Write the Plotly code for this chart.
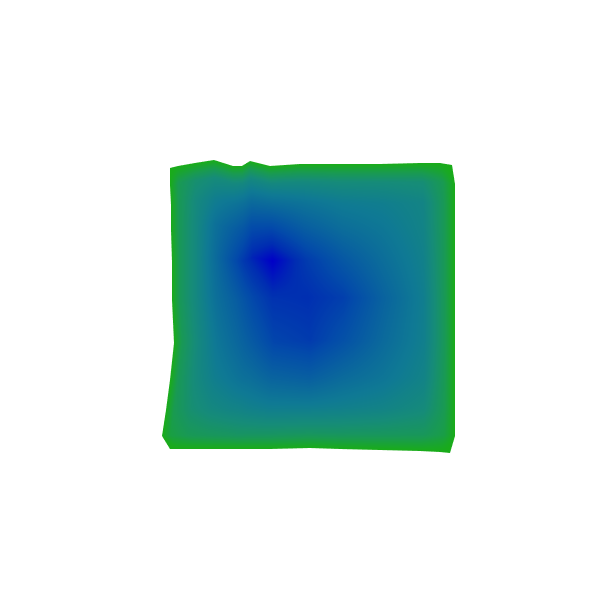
import numpy as np
import plotly.graph_objects as go

# Outline of the sheet, in picture units (y measured downward)
top_x = [170, 178, 195, 214, 233, 242, 250, 270, 300, 340, 380, 420, 440, 452]
top_y = [168, 166, 163, 160, 166, 166, 161, 166, 164, 164, 164, 163, 163, 165]
bottom_x = [170, 178, 195, 214, 233, 242, 250, 270, 310, 340, 380, 420, 440, 450]
bottom_y = [449, 449, 449, 449, 449, 449, 449, 449, 448, 449, 450, 451, 452, 453]
left_x = [170, 170, 171, 171, 172, 172, 174, 170, 166, 162, 170]
left_y = [168, 185, 205, 230, 262, 300, 343, 380, 410, 436, 449]
right_x = [452, 455, 455, 455, 455, 455, 455, 455, 455, 455, 450]
right_y = [165, 184, 205, 230, 262, 300, 343, 380, 410, 436, 453]

# Surface height at each station (rows top to bottom, columns left to right)
values = [
    [0, 0, 0, 0, 0, 0, 0, 0, 0, 0, 0, 0, 0, 0],
    [0, 13, 22, 26, 28, 29, 29, 29, 28, 26, 26, 24, 13, 0],
    [0, 14, 28, 37, 44, 47, 48, 49, 44, 39, 37, 32, 15, 0],
    [0, 14, 29, 46, 58, 63, 68, 72, 58, 48, 42, 33, 15, 0],
    [0, 15, 30, 50, 70, 80, 88, 100, 78, 62, 48, 35, 15, 0],
    [0, 15, 30, 47, 58, 65, 72, 82, 84, 76, 55, 37, 15, 0],
    [0, 14, 29, 43, 52, 57, 62, 73, 78, 66, 50, 36, 15, 0],
    [0, 14, 27, 37, 43, 46, 48, 54, 58, 50, 43, 33, 14, 0],
    [0, 13, 23, 29, 32, 33, 35, 37, 38, 36, 33, 27, 13, 0],
    [0, 9, 14, 16, 17, 18, 18, 18, 18, 18, 17, 16, 10, 0],
    [0, 0, 0, 0, 0, 0, 0, 0, 0, 0, 0, 0, 0, 0],
]

colorscale = [
    [0.0, "rgb(25,172,25)"],
    [0.12, "rgb(25,155,80)"],
    [0.25, "rgb(22,140,120)"],
    [0.4, "rgb(15,122,148)"],
    [0.7, "rgb(3,75,170)"],
    [0.85, "rgb(0,45,178)"],
    [1.0, "rgb(0,0,200)"],
]

tx, ty = np.array(top_x, float), np.array(top_y, float)
bx, by = np.array(bottom_x, float), np.array(bottom_y, float)
lx, ly = np.array(left_x, float), np.array(left_y, float)
rx, ry = np.array(right_x, float), np.array(right_y, float)
u = (tx - tx[0]) / (tx[-1] - tx[0])
v = (ly - ly[0]) / (ly[-1] - ly[0])
U, V = np.meshgrid(u, v)


def coons(t, b, l, r):
    ruled_v = np.outer(1 - v, t) + np.outer(v, b)
    ruled_u = np.outer(l, 1 - u) + np.outer(r, u)
    corners = ((1 - U) * (1 - V) * t[0] + U * (1 - V) * t[-1]
               + (1 - U) * V * b[0] + U * V * b[-1])
    return ruled_v + ruled_u - corners


X = coons(tx, bx, lx, rx)
Y = 600 - coons(ty, by, ly, ry)
Z = np.array(values, float)

fig = go.Figure(go.Surface(
    x=X, y=Y, z=Z, colorscale=colorscale, cmin=0, cmax=100, showscale=False,
    hoverinfo="skip",
    lighting=dict(ambient=1, diffuse=0, specular=0, roughness=1, fresnel=0),
))
hidden = dict(visible=False, showgrid=False, zeroline=False, showbackground=False)
fig.update_layout(
    width=600, height=600, margin=dict(l=0, r=0, t=0, b=0),
    paper_bgcolor="white", showlegend=False,
    scene=dict(
        domain=dict(x=[0, 1], y=[0, 1]),
        xaxis=dict(hidden, range=[8, 608]),
        yaxis=dict(hidden, range=[-8, 592]),
        zaxis=dict(hidden, range=[-1, 100]),
        aspectmode="manual", aspectratio=dict(x=2, y=2, z=0.1),
        camera=dict(eye=dict(x=0, y=0, z=1), up=dict(x=0, y=1, z=0),
                    center=dict(x=0, y=0, z=0),
                    projection=dict(type="orthographic")),
    ),
)
fig.write_html("out.html")
